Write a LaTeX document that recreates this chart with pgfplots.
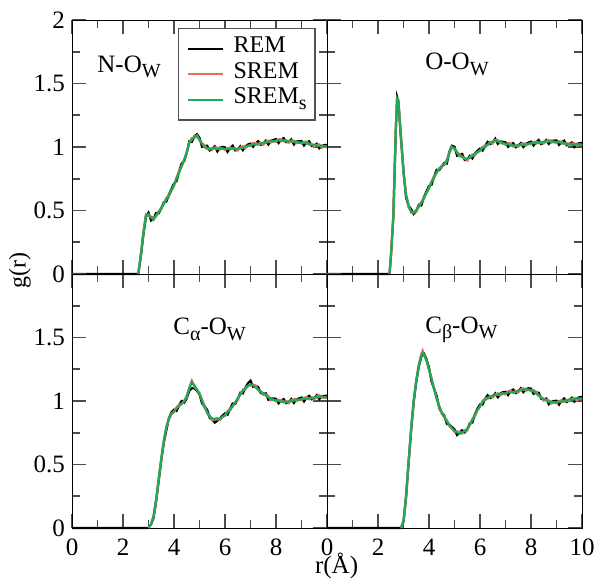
\documentclass[border=0pt]{standalone}
\usepackage{pgfplots}
\usepackage{pgfplotstable}
\pgfplotsset{compat=1.18}
\usepackage{fontspec}
\setmainfont{Liberation Serif}
\definecolor{cred}{RGB}{232,112,88}
\definecolor{cgreen}{RGB}{30,170,90}
\definecolor{axgray}{RGB}{80,80,80}
\newcommand\sub[1]{\raisebox{-0.5ex}{\fontsize{10}{12}\selectfont #1}}

\pgfplotstableread{
r rem srem srems
0 0 0 0
2.6 0 0 0
2.7 0.14 0.16 0.15
2.8 0.31 0.33 0.32
2.9 0.45 0.47 0.46
3.0 0.482 0.462 0.47
3.1 0.422 0.45 0.444
3.2 0.438 0.442 0.427
3.3 0.48 0.454 0.462
3.4 0.478 0.494 0.486
3.5 0.515 0.508 0.523
3.6 0.565 0.556 0.55
3.7 0.57 0.60 0.588
3.8 0.624 0.61 0.624
3.9 0.67 0.66 0.658
4.0 0.712 0.692 0.70
4.1 0.732 0.76 0.754
4.2 0.808 0.812 0.797
4.3 0.87 0.844 0.852
4.4 0.888 0.904 0.896
4.5 0.955 0.948 0.963
4.6 1.045 1.036 1.03
4.7 1.04 1.07 1.058
4.8 1.084 1.07 1.084
4.9 1.10 1.09 1.088
5.0 1.072 1.052 1.06
5.1 1.002 1.03 1.024
5.2 1.008 1.012 0.997
5.3 1.01 0.984 0.992
5.4 0.973 0.989 0.981
5.5 0.985 0.978 0.993
5.6 1.005 0.996 0.99
5.7 0.965 0.995 0.983
5.8 0.994 0.98 0.994
5.9 1.00 0.99 0.988
6.0 0.997 0.977 0.985
6.1 0.962 0.99 0.984
6.2 0.993 0.997 0.982
6.3 1.01 0.984 0.992
6.4 0.973 0.989 0.981
6.5 0.98 0.973 0.988
6.6 1.005 0.996 0.99
6.7 0.975 1.005 0.993
6.8 1.004 0.99 1.004
6.9 1.02 1.01 1.008
7.0 1.027 1.007 1.015
7.1 1.002 1.03 1.024
7.2 1.028 1.032 1.017
7.3 1.045 1.019 1.027
7.4 1.018 1.034 1.026
7.5 1.025 1.018 1.033
7.6 1.05 1.041 1.035
7.7 1.02 1.05 1.038
7.8 1.049 1.035 1.049
7.9 1.055 1.045 1.043
8.0 1.062 1.042 1.05
8.1 1.032 1.06 1.054
8.2 1.058 1.062 1.047
8.3 1.07 1.044 1.052
8.4 1.038 1.054 1.046
8.5 1.04 1.033 1.048
8.6 1.06 1.051 1.045
8.7 1.02 1.05 1.038
8.8 1.044 1.03 1.044
8.9 1.045 1.035 1.033
9.0 1.047 1.027 1.035
9.1 1.012 1.04 1.034
9.2 1.038 1.042 1.027
9.3 1.045 1.019 1.027
9.4 1.008 1.024 1.016
9.5 1.01 1.003 1.018
9.6 1.025 1.016 1.01
9.7 0.99 1.02 1.008
9.8 1.009 0.995 1.009
9.9 1.015 1.005 1.003
10.0 1.017 0.997 1.005
}\tabNO

\pgfplotstableread{
r rem srem srems
0 0 0 0
2.45 0 0 0
2.5 0.12 0.12 0.12
2.6 0.44 0.46 0.45
2.7 1.14 1.16 1.15
2.75 1.39 1.37 1.38
2.8 1.35 1.37 1.36
2.9 1.07 1.09 1.08
3.0 0.812 0.792 0.80
3.1 0.602 0.63 0.624
3.2 0.538 0.542 0.527
3.3 0.51 0.484 0.492
3.4 0.473 0.489 0.481
3.5 0.495 0.488 0.503
3.6 0.545 0.536 0.53
3.7 0.54 0.57 0.558
3.8 0.604 0.59 0.604
3.9 0.65 0.64 0.638
4.0 0.692 0.672 0.68
4.1 0.702 0.73 0.724
4.2 0.768 0.772 0.757
4.3 0.82 0.794 0.802
4.4 0.818 0.834 0.826
4.5 0.845 0.838 0.853
4.6 0.875 0.866 0.86
4.7 0.87 0.90 0.888
4.8 0.964 0.95 0.964
4.9 1.01 1.00 0.998
5.0 1.002 0.982 0.99
5.1 0.932 0.96 0.954
5.2 0.938 0.942 0.927
5.3 0.945 0.919 0.927
5.4 0.898 0.914 0.906
5.5 0.90 0.893 0.908
5.6 0.93 0.921 0.915
5.7 0.91 0.94 0.928
5.8 0.949 0.935 0.949
5.9 0.97 0.96 0.958
6.0 0.987 0.967 0.975
6.1 0.972 1.00 0.994
6.2 1.008 1.012 0.997
6.3 1.04 1.014 1.022
6.4 1.023 1.039 1.031
6.5 1.035 1.028 1.043
6.6 1.065 1.056 1.05
6.7 1.025 1.055 1.043
6.8 1.044 1.03 1.044
6.9 1.04 1.03 1.028
7.0 1.037 1.017 1.025
7.1 1.002 1.03 1.024
7.2 1.023 1.027 1.012
7.3 1.03 1.004 1.012
7.4 0.998 1.014 1.006
7.5 1.01 1.003 1.018
7.6 1.03 1.021 1.015
7.7 1.00 1.03 1.018
7.8 1.024 1.01 1.024
7.9 1.035 1.025 1.023
8.0 1.042 1.022 1.03
8.1 1.012 1.04 1.034
8.2 1.038 1.042 1.027
8.3 1.055 1.029 1.037
8.4 1.023 1.039 1.031
8.5 1.035 1.028 1.043
8.6 1.055 1.046 1.04
8.7 1.025 1.055 1.043
8.8 1.049 1.035 1.049
8.9 1.05 1.04 1.038
9.0 1.052 1.032 1.04
9.1 1.017 1.045 1.039
9.2 1.038 1.042 1.027
9.3 1.05 1.024 1.032
9.4 1.013 1.029 1.021
9.5 1.02 1.013 1.028
9.6 1.035 1.026 1.02
9.7 1.00 1.03 1.018
9.8 1.024 1.01 1.024
9.9 1.03 1.02 1.018
10.0 1.032 1.012 1.02
}\tabOO

\pgfplotstableread{
r rem srem srems
0 0 0 0
3.0 0 0 0
3.1 0.03 0.03 0.03
3.2 0.08 0.09 0.10
3.3 0.21 0.22 0.23
3.4 0.37 0.38 0.39
3.5 0.53 0.54 0.55
3.6 0.67 0.68 0.69
3.7 0.77 0.79 0.80
3.8 0.864 0.85 0.864
3.9 0.91 0.90 0.898
4.0 0.932 0.912 0.92
4.1 0.922 0.95 0.944
4.2 0.968 0.972 0.957
4.3 1.00 0.974 0.982
4.4 0.988 1.004 0.996
4.5 1.02 1.028 1.043
4.6 1.08 1.106 1.10
4.7 1.10 1.16 1.148
4.8 1.10 1.11 1.124
4.9 1.08 1.09 1.088
5.0 1.052 1.052 1.06
5.1 0.982 1.01 1.004
5.2 0.958 0.962 0.947
5.3 0.93 0.904 0.912
5.4 0.868 0.884 0.876
5.5 0.855 0.848 0.863
5.6 0.83 0.861 0.855
5.7 0.845 0.865 0.853
5.8 0.864 0.85 0.864
5.9 0.885 0.875 0.873
6.0 0.902 0.882 0.89
6.1 0.892 0.92 0.914
6.2 0.938 0.942 0.927
6.3 0.98 0.954 0.962
6.4 0.978 0.994 0.986
6.5 1.015 1.008 1.023
6.6 1.065 1.056 1.05
6.7 1.06 1.09 1.078
6.8 1.104 1.09 1.104
6.9 1.14 1.12 1.118
7.0 1.16 1.122 1.13
7.1 1.112 1.13 1.124
7.2 1.118 1.122 1.107
7.3 1.11 1.084 1.092
7.4 1.063 1.079 1.071
7.5 1.055 1.048 1.063
7.6 1.06 1.051 1.045
7.7 1.01 1.04 1.028
7.8 1.019 1.005 1.019
7.9 1.02 1.01 1.008
8.0 1.017 0.997 1.005
8.1 0.982 1.01 1.004
8.2 1.003 1.007 0.992
8.3 1.015 0.989 0.997
8.4 0.983 0.999 0.991
8.5 0.99 0.983 0.998
8.6 1.015 1.006 1.00
8.7 0.985 1.015 1.003
8.8 1.014 1.00 1.014
8.9 1.02 1.01 1.008
9.0 1.027 1.007 1.015
9.1 0.997 1.025 1.019
9.2 1.028 1.032 1.017
9.3 1.04 1.014 1.022
9.4 1.013 1.029 1.021
9.5 1.02 1.013 1.028
9.6 1.045 1.036 1.03
9.7 1.015 1.045 1.033
9.8 1.039 1.025 1.039
9.9 1.04 1.03 1.028
10.0 1.042 1.022 1.03
}\tabCA

\pgfplotstableread{
r rem srem srems
0 0 0 0
2.9 0 0 0
3.0 0.05 0.05 0.05
3.1 0.24 0.25 0.26
3.2 0.51 0.52 0.53
3.3 0.77 0.78 0.79
3.4 0.99 1.00 1.01
3.5 1.15 1.17 1.16
3.6 1.27 1.29 1.28
3.7 1.35 1.37 1.36
3.75 1.37 1.395 1.38
3.8 1.375 1.36 1.37
3.9 1.33 1.32 1.318
4.0 1.262 1.242 1.25
4.1 1.152 1.18 1.174
4.2 1.098 1.102 1.087
4.3 1.04 1.014 1.022
4.4 0.948 0.964 0.956
4.5 0.905 0.898 0.913
4.6 0.885 0.876 0.87
4.7 0.82 0.85 0.838
4.8 0.814 0.80 0.814
4.9 0.795 0.785 0.783
5.0 0.777 0.757 0.765
5.1 0.732 0.76 0.754
5.2 0.753 0.757 0.742
5.3 0.77 0.744 0.752
5.4 0.753 0.769 0.761
5.5 0.775 0.768 0.783
5.6 0.825 0.816 0.81
5.7 0.83 0.86 0.848
5.8 0.894 0.88 0.894
5.9 0.94 0.93 0.928
6.0 0.972 0.952 0.96
6.1 0.972 1.00 0.994
6.2 1.018 1.022 1.007
6.3 1.045 1.019 1.027
6.4 1.023 1.039 1.031
6.5 1.035 1.028 1.043
6.6 1.06 1.051 1.045
6.7 1.03 1.06 1.048
6.8 1.059 1.045 1.059
6.9 1.07 1.06 1.058
7.0 1.072 1.052 1.06
7.1 1.047 1.075 1.069
7.2 1.078 1.082 1.067
7.3 1.09 1.064 1.072
7.4 1.063 1.079 1.071
7.5 1.075 1.068 1.083
7.6 1.10 1.091 1.085
7.7 1.07 1.10 1.088
7.8 1.094 1.08 1.094
7.9 1.10 1.09 1.088
8.0 1.097 1.077 1.085
8.1 1.057 1.085 1.079
8.2 1.068 1.072 1.057
8.3 1.065 1.039 1.047
8.4 1.018 1.034 1.026
8.5 1.01 1.003 1.018
8.6 1.02 1.011 1.005
8.7 0.975 1.005 0.993
8.8 0.994 0.98 0.994
8.9 1.00 0.99 0.988
9.0 1.002 0.982 0.99
9.1 0.972 1.00 0.994
9.2 1.003 1.007 0.992
9.3 1.02 0.994 1.002
9.4 0.993 1.009 1.001
9.5 1.005 0.998 1.013
9.6 1.025 1.016 1.01
9.7 0.995 1.025 1.013
9.8 1.019 1.005 1.019
9.9 1.03 1.02 1.018
10.0 1.032 1.012 1.02
}\tabCB

\pgfplotsset{
  panel/.style={
    scale only axis, width=127.5pt, height=127pt,
    anchor=south west, clip=false,
    xmin=0, xmax=10, ymin=0, ymax=2,
    xtick={0,2,4,6,8,10}, minor x tick num=1,
    ytick={0,0.5,1,1.5,2}, minor y tick num=1,
    xtick align=inside, ytick align=inside,
    major tick length=7pt, minor tick length=4pt,
    every tick/.style={black!70, thick},
    tick label style={font=\fontsize{12.5}{14}\selectfont},
    xticklabel style={yshift=-2pt},
    /pgf/number format/assume math mode=true,
    legend cell align=left,
  },
  crem/.style={black, line width=1.1pt},
  csrem/.style={cred, line width=1.1pt},
  csrems/.style={cgreen, line width=1.1pt},
}

\begin{document}
\begin{tikzpicture}
\path[use as bounding box] (0,0) rectangle (301.5pt,293.5pt);

% top left: N-O_W
\begin{axis}[panel, at={(36pt,156.5pt)},
  xticklabels={}, yticklabels={0,0.5,1,1.5,2},
  legend style={at={(0.955,0.969)}, anchor=north east, draw=axgray, line width=0.75pt,
    font=\fontsize{12}{14}\selectfont, inner xsep=4pt, inner ysep=3.6pt,
    column sep=5pt, row sep=0pt,
    nodes={inner sep=0pt, text height=8.4pt, text depth=4.4pt}},
  legend image code/.code={\draw[#1, line width=1.1pt] (0pt,0pt) -- (17.5pt,0pt);},
]
\addplot[crem] table[x=r,y=rem] {\tabNO};
\addlegendentry{REM}
\addplot[csrem, restrict x to domain=2.6:10] table[x=r,y=srem] {\tabNO};
\addlegendentry{SREM}
\addplot[csrems, restrict x to domain=2.6:10] table[x=r,y=srems] {\tabNO};
\addlegendentry{SREM\sub{s}}
\node[anchor=base west, inner sep=0pt, font=\fontsize{12.5}{15}\selectfont] at (axis cs:0.98,1.59) {N-O\sub{W}};
\end{axis}

% top right: O-O_W
\begin{axis}[panel, at={(163.5pt,156.5pt)},
  xticklabels={}, yticklabels={}]
\addplot[crem] table[x=r,y=rem] {\tabOO};
\addplot[csrem, restrict x to domain=2.45:10] table[x=r,y=srem] {\tabOO};
\addplot[csrems, restrict x to domain=2.45:10] table[x=r,y=srems] {\tabOO};
\node[anchor=base west, inner sep=0pt, font=\fontsize{12.5}{15}\selectfont] at (axis cs:3.84,1.61) {O-O\sub{W}};
\end{axis}

% bottom left: C_alpha-O_W
\begin{axis}[panel, at={(36pt,29.5pt)},
  xticklabels={0,2,4,6,8,}, yticklabels={0,0.5,1,1.5,}]
\addplot[crem] table[x=r,y=rem] {\tabCA};
\addplot[csrem, restrict x to domain=3.0:10] table[x=r,y=srem] {\tabCA};
\addplot[csrems, restrict x to domain=3.0:10] table[x=r,y=srems] {\tabCA};
\node[anchor=base west, inner sep=0pt, font=\fontsize{12.5}{15}\selectfont] at (axis cs:3.96,1.52) {C\sub{α}-O\sub{W}};
\end{axis}

% bottom right: C_beta-O_W
\begin{axis}[panel, at={(163.5pt,29.5pt)},
  xticklabels={0,2,4,6,8,10}, yticklabels={}]
\addplot[crem] table[x=r,y=rem] {\tabCB};
\addplot[csrem, restrict x to domain=2.9:10] table[x=r,y=srem] {\tabCB};
\addplot[csrems, restrict x to domain=2.9:10] table[x=r,y=srems] {\tabCB};
\node[anchor=base west, inner sep=0pt, font=\fontsize{12.5}{15}\selectfont] at (axis cs:3.84,1.535) {C\sub{β}-O\sub{W}};
\end{axis}

\node[rotate=90, inner sep=0pt, font=\fontsize{12}{14}\selectfont] at (10pt,158pt) {g(r)};
\node[anchor=base, inner sep=0pt, font=\fontsize{12.5}{14}\selectfont] at (168.3pt,6.5pt) {r(Å)};
\end{tikzpicture}
\end{document}
